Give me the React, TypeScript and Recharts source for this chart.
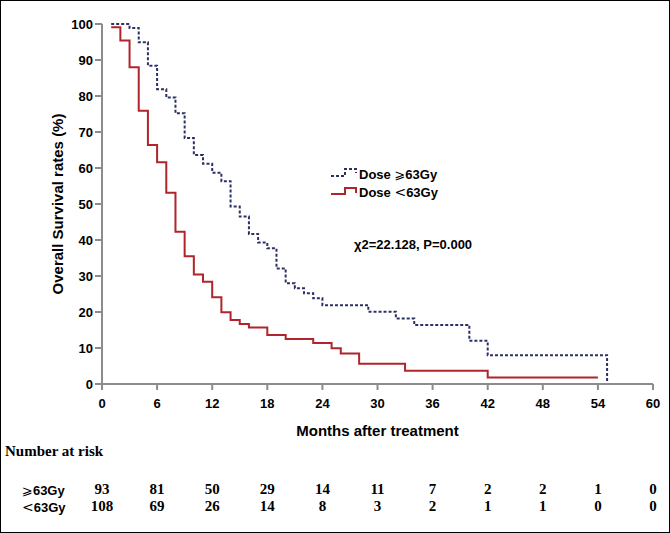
import React from "react";
import { LineChart, Line, XAxis, YAxis, Label } from "recharts";

// survival curves (months, % surviving)
const highMonths = [1, 3, 4, 5, 6, 7, 8, 9, 10, 11, 12, 13, 14, 15, 16, 17, 18, 19, 20, 21, 22, 23, 24, 29, 32, 34, 40, 42, 55];
const highSurvival = [100, 98.9, 94.9, 88.4, 81.9, 79.6, 75.2, 68.3, 63.6, 61.2, 58.7, 56.3, 49.3, 46.5, 41.7, 39.3, 37.7, 32.1, 28.0, 26.6, 25.2, 23.8, 21.9, 20.1, 18.2, 16.4, 12.0, 8.0, 0];

const lowMonths = [1, 2, 3, 4, 5, 6, 7, 8, 9, 10, 11, 12, 13, 14, 15, 16, 18, 20, 23, 25, 26, 28, 33, 42, 54];
const lowSurvival = [99.1, 95.4, 88.0, 75.9, 66.4, 61.6, 53.1, 42.3, 35.5, 30.4, 28.4, 24.1, 19.9, 17.8, 16.7, 15.7, 13.6, 12.5, 11.4, 9.9, 8.5, 5.6, 3.7, 1.8, 1.8];

const monthTicks = [0, 6, 12, 18, 24, 30, 36, 42, 48, 54, 60];
const pctTicks = [0, 10, 20, 30, 40, 50, 60, 70, 80, 90, 100];

const riskHigh = [93, 81, 50, 29, 14, 11, 7, 2, 2, 1, 0];
const riskLow = [108, 69, 26, 14, 8, 3, 2, 1, 1, 0, 0];

const highData = highMonths.map((m, i) => ({ m, s: highSurvival[i] }));
const lowData = lowMonths.map((m, i) => ({ m, s: lowSurvival[i] }));

const BLUE = "#2b3066";
const RED = "#b0242c";
const AXIS = "#8c8c8c";
const SANS = "'Liberation Sans', Arial, sans-serif";
const SERIF = "'Liberation Serif', 'Times New Roman', serif";

const tickStyle = { fontFamily: SANS, fontWeight: 700, fontSize: 13, fill: "#000" };
const riskStyle = { fontFamily: SERIF, fontWeight: 700, fontSize: 15, fill: "#000" };
const textStyle = { fontFamily: SANS, fontWeight: 700, fontSize: 13 };
const symStyle = { fontFamily: "'DejaVu Sans', sans-serif", fontWeight: 400, fontSize: 13 };

export default function App() {
  return (
    <div style={{ position: "absolute", left: 0, top: 0, width: 670, height: 533, background: "#fff" }}>
      <LineChart
        width={670}
        height={533}
        margin={{ top: 24, right: 17, bottom: 23, left: 20 }}
      >
        <XAxis
          dataKey="m"
          type="number"
          domain={[0, 60]}
          ticks={monthTicks}
          tick={tickStyle}
          tickSize={6}
          tickMargin={9}
          axisLine={{ stroke: AXIS, strokeWidth: 2 }}
          tickLine={{ stroke: AXIS, strokeWidth: 2 }}
          height={56}
        >
          <Label
            value="Months after treatment"
            position="insideBottom"
            offset={4}
            style={{ fontFamily: SANS, fontWeight: 700, fontSize: 15, fill: "#000" }}
          />
        </XAxis>
        <XAxis
          xAxisId="r1"
          dataKey="m"
          type="number"
          domain={[0, 60]}
          ticks={monthTicks}
          tickFormatter={(v: number) => String(riskHigh[Math.round(v / 6)])}
          tick={riskStyle}
          tickSize={0}
          tickMargin={43}
          axisLine={false}
          tickLine={false}
          height={50}
        />
        <XAxis
          xAxisId="r2"
          dataKey="m"
          type="number"
          domain={[0, 60]}
          ticks={monthTicks}
          tickFormatter={(v: number) => String(riskLow[Math.round(v / 6)])}
          tick={riskStyle}
          tickSize={0}
          tickMargin={10}
          axisLine={false}
          tickLine={false}
          height={20}
        />
        <YAxis
          type="number"
          domain={[0, 100]}
          ticks={pctTicks}
          tick={tickStyle}
          tickSize={7}
          tickMargin={2}
          width={82}
          axisLine={{ stroke: AXIS, strokeWidth: 2 }}
          tickLine={{ stroke: AXIS, strokeWidth: 2 }}
        >
          <Label
            value="Overall Survival rates (%)"
            angle={-90}
            position="center"
            dx={-3}
            style={{ fontFamily: SANS, fontWeight: 700, fontSize: 15, fill: "#000", textAnchor: "middle" }}
          />
        </YAxis>
        <Line
          data={lowData}
          dataKey="s"
          type="stepAfter"
          stroke={RED}
          strokeWidth={2}
          dot={false}
          isAnimationActive={false}
        />
        <Line
          data={highData}
          dataKey="s"
          type="stepAfter"
          stroke={BLUE}
          strokeWidth={2}
          strokeDasharray="3 2"
          dot={false}
          isAnimationActive={false}
        />
        {/* hidden series so the risk rows get a scale */}
        <Line xAxisId="r1" data={highData} dataKey="s" stroke="none" dot={false} isAnimationActive={false} />
        <Line xAxisId="r2" data={lowData} dataKey="s" stroke="none" dot={false} isAnimationActive={false} />
      </LineChart>

      {/* legend, stats and risk-table labels */}
      <svg style={{ position: "absolute", left: 0, top: 0 }} width={670} height={533} pointerEvents="none">
        <polyline points="331,176 345,176 345,169 356,169 356,173" fill="none" stroke={BLUE} strokeWidth={2} strokeDasharray="3 2" />
        <polyline points="331,194 345,194 345,188 356,188 356,193" fill="none" stroke={RED} strokeWidth={2} />
        <text x={359} y={179} style={textStyle}>
          Dose <tspan style={symStyle}>⩾</tspan>63Gy
        </text>
        <text x={359} y={197} style={textStyle}>
          Dose <tspan style={{ ...symStyle, fontSize: 14 }}>&lt;</tspan>63Gy
        </text>
        <text x={354} y={249} style={textStyle}>χ2=22.128, P=0.000</text>
        <text x={5} y={456} style={{ fontFamily: SERIF, fontWeight: 700, fontSize: 15 }}>Number at risk</text>
        <text x={22} y={495} style={textStyle}>
          <tspan style={symStyle}>⩾</tspan>63Gy
        </text>
        <text x={22} y={512} style={textStyle}>
          <tspan style={{ ...symStyle, fontSize: 14 }}>&lt;</tspan>63Gy
        </text>
      </svg>
      <div style={{ position: "absolute", left: 0, top: 0, width: 670, height: 533, border: "1px solid #000", boxSizing: "border-box" }} />
    </div>
  );
}
